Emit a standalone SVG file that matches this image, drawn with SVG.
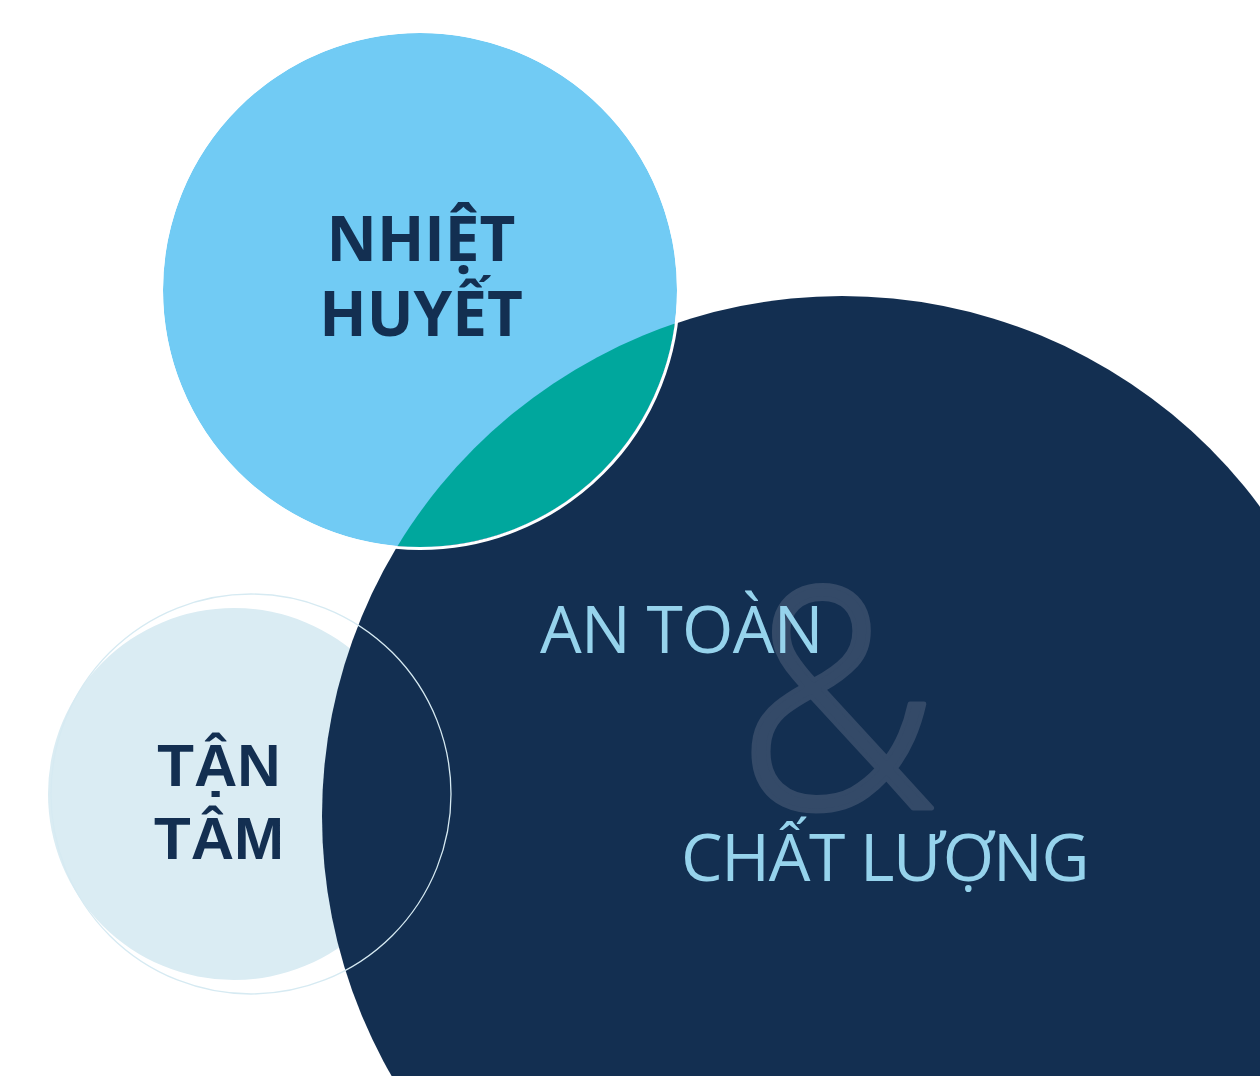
<svg xmlns="http://www.w3.org/2000/svg" width="1260" height="1076" viewBox="0 0 1260 1076">
<style>
.bold{font-family:"Open Sans","Liberation Sans",sans-serif;font-weight:700;fill:#132F51}
.arial{font-family:"Liberation Sans",Arial,sans-serif;font-weight:700;fill:#132F51}
.light{font-family:"Open Sans","Liberation Sans",sans-serif;font-weight:400;fill:#96D3EC}
</style>
<defs>
<clipPath id="lb"><circle cx="420" cy="290" r="257"/></clipPath>
</defs>
<rect width="1260" height="1076" fill="#FFFFFF"/>
<g id="tan-tam-bg">
<circle cx="234" cy="794" r="186" fill="#DAECF3"/>
</g>
<g id="an-toan-chat-luong">
<circle cx="842" cy="816" r="520" fill="#132F51"/>
</g>
<g id="nhiet-huyet">
<circle cx="420" cy="290" r="257" fill="#71CBF4"/>
<circle cx="842" cy="816" r="520" fill="#00A79D" clip-path="url(#lb)"/>
<circle cx="420" cy="290" r="258.5" fill="none" stroke="#FFFFFF" stroke-width="3"/>
<text class="bold" x="421" y="261" font-size="62" text-anchor="middle">NHIỆT</text>
<text class="bold" x="421" y="336" font-size="62" text-anchor="middle">HUYẾT</text>
</g>
<g id="tan-tam">
<circle cx="251" cy="794" r="200" fill="none" stroke="#D6EAF2" stroke-width="1.3"/>
<text class="arial" x="219" y="786" font-size="60" text-anchor="middle">TẬN</text>
<text class="arial" x="219" y="859" font-size="60" text-anchor="middle">TÂM</text>
</g>
<g id="labels">
<text transform="translate(737,808) scale(0.91,0.99)" x="0" y="0" font-family="'Open Sans','Liberation Sans',sans-serif" font-weight="300" font-size="310" fill="#344A68" stroke="#344A68" stroke-width="5" stroke-linejoin="round">&amp;</text>
<text class="light" x="540" y="653" font-size="66" letter-spacing="-0.7">AN TOÀN</text>
<text class="light" x="681" y="881" font-size="66" letter-spacing="-1.3">CHẤT LƯỢNG</text>
</g>
<g id="connectors"/>
</svg>
